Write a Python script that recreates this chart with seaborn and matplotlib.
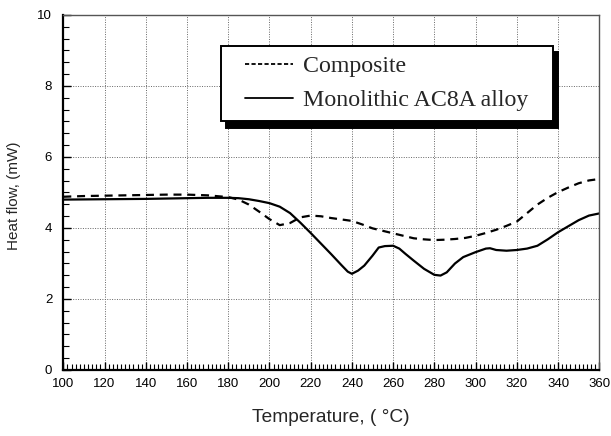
import matplotlib
matplotlib.use("Agg")
import matplotlib.pyplot as plt
from matplotlib.ticker import MultipleLocator, AutoMinorLocator
from matplotlib.lines import Line2D
from matplotlib.legend_handler import HandlerLine2D
import seaborn as sns
import pandas as pd

temp_composite = [100, 110, 120, 130, 140, 150, 160, 170, 180, 185, 190, 195, 200, 205, 210,
                  215, 220, 225, 230, 240, 245, 250, 255, 260, 265, 270, 275, 280, 285, 290,
                  295, 300, 305, 310, 315, 320, 325, 330, 335, 340, 345, 350, 355, 360]
heat_composite = [4.88, 4.90, 4.91, 4.92, 4.93, 4.94, 4.94, 4.92, 4.87, 4.80, 4.66, 4.46, 4.25, 4.08, 4.14,
                  4.30, 4.35, 4.33, 4.28, 4.20, 4.10, 3.99, 3.92, 3.85, 3.78, 3.71, 3.68, 3.66, 3.67, 3.69,
                  3.72, 3.78, 3.86, 3.95, 4.06, 4.18, 4.42, 4.66, 4.85, 5.01, 5.14, 5.26, 5.34, 5.38]

temp_mono = [100, 120, 140, 160, 170, 180, 185, 190, 195, 200, 205, 210, 215, 220, 225, 230, 235,
             238, 240, 243, 246, 250, 253, 256, 260, 263, 266, 270, 275, 280, 283, 286, 290, 294,
             300, 305, 307, 310, 315, 320, 325, 330, 335, 340, 345, 350, 355, 360]
heat_mono = [4.80, 4.81, 4.82, 4.84, 4.85, 4.85, 4.84, 4.81, 4.76, 4.70, 4.60, 4.42, 4.15, 3.86, 3.56, 3.26, 2.95,
             2.77, 2.71, 2.80, 2.94, 3.22, 3.45, 3.49, 3.50, 3.42, 3.27, 3.08, 2.85, 2.68, 2.66, 2.75, 3.00, 3.18,
             3.32, 3.42, 3.43, 3.38, 3.36, 3.38, 3.42, 3.50, 3.68, 3.88, 4.05, 4.22, 4.35, 4.41]

series_names = ["Composite", "Monolithic AC8A alloy"]
x_ticks = list(range(100, 361, 20))
y_ticks = list(range(0, 11, 2))


class ShiftedLineHandler(HandlerLine2D):
    """Draw the legend sample line only in the right part of the handle box."""
    def __init__(self, lead=0.2, **kw):
        super().__init__(**kw)
        self.lead = lead

    def create_artists(self, legend, orig_handle, xdescent, ydescent, width, height, fontsize, trans):
        off = width * self.lead
        return super().create_artists(legend, orig_handle, xdescent - off, ydescent,
                                      width - off, height, fontsize, trans)


sns.set_theme(style="white")
plt.rcParams["font.family"] = ["Liberation Sans", "DejaVu Sans"]

fig = plt.figure(figsize=(6.11, 4.36), dpi=100)
ax = fig.add_axes([0.1036, 0.1514, 0.8772, 0.8142])

df_c = pd.DataFrame({"T": temp_composite, "H": heat_composite})
df_m = pd.DataFrame({"T": temp_mono, "H": heat_mono})
sns.lineplot(data=df_c, x="T", y="H", ax=ax, color="black", lw=1.6, linestyle=(0, (3.6, 2.6)))
sns.lineplot(data=df_m, x="T", y="H", ax=ax, color="black", lw=1.6)

ax.set_xlim(100, 360)
ax.set_ylim(0, 10)
ax.set_xticks(x_ticks)
ax.set_yticks(y_ticks)
ax.xaxis.set_minor_locator(MultipleLocator(2))
ax.yaxis.set_minor_locator(AutoMinorLocator(6))
ax.tick_params(which="both", direction="in", top=False, right=False, bottom=True, left=True,
               colors="black", labelsize=9.5)
ax.tick_params(which="major", length=6, width=1.0)
ax.tick_params(which="minor", length=4, width=0.8)
ax.tick_params(axis="x", pad=6)
ax.tick_params(axis="y", pad=8)
ax.grid(True, which="major", linestyle=(0, (1, 1.5)), color="#666666", lw=0.7)

for side in ["left", "bottom"]:
    ax.spines[side].set_color("black")
    ax.spines[side].set_linewidth(1.6)
for side in ["top", "right"]:
    ax.spines[side].set_color("#555555")
    ax.spines[side].set_linewidth(1.0)

ax.set_xlabel("Temperature, ( °C)", fontsize=13.8)
ax.set_ylabel("Heat flow, (mW)", fontsize=11)
ax.xaxis.set_label_coords(0.5, -0.11)
ax.yaxis.set_label_coords(-0.079, 0.49)

handles = [Line2D([], [], color="black", lw=1.3, linestyle=(0, (2.3, 1.3))),
           Line2D([], [], color="black", lw=1.3)]
leg = ax.legend(handles, series_names, loc="upper left",
                bbox_to_anchor=(0.294, 0.914, 0.62, 0.0), mode="expand",
                prop={"family": "Liberation Serif", "size": 17.2},
                frameon=True, fancybox=False, framealpha=1,
                edgecolor="black", borderpad=0.42, handlelength=2.6,
                handletextpad=0.42, labelspacing=0.5, borderaxespad=0,
                handler_map={Line2D: ShiftedLineHandler(lead=0.22)},
                shadow={"color": "black", "alpha": 1, "ox": 3.6, "oy": -5.0})
leg.get_frame().set_linewidth(1.4)

fig.savefig("out.png", dpi=100)
